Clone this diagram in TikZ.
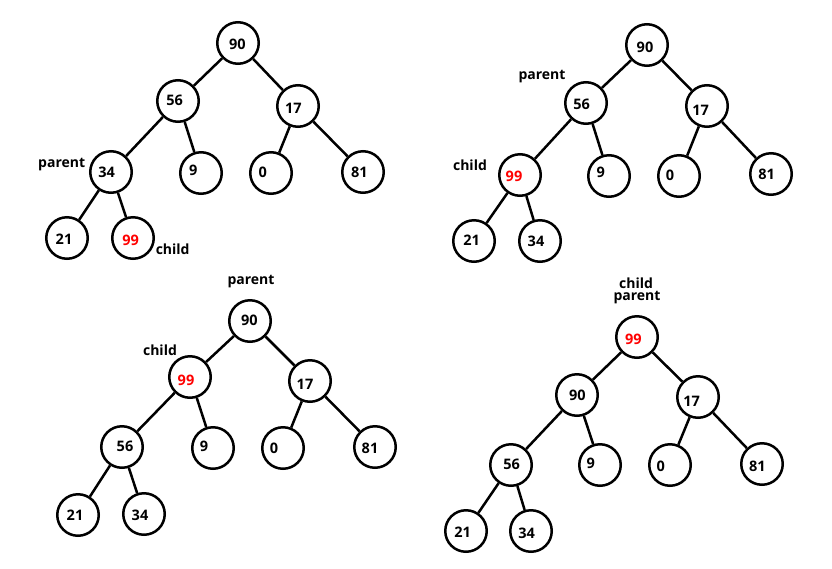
\documentclass[tikz,border=0pt]{standalone}
\usepackage{fontspec}
\setmainfont{Open Sans}
\begin{document}
\begin{tikzpicture}[x=1pt,y=-1pt,
  vc/.style={circle,draw=black,line width=2.5pt,minimum size=41.5pt,inner sep=0pt},
  num/.style={font=\bfseries\fontsize{14.5}{16}\selectfont,inner sep=0pt,text=black},
  hot/.style={num,text=red},
  tag/.style={font=\bfseries\fontsize{14}{16}\selectfont,inner sep=0pt,text=black},
  edge/.style={line width=2.5pt,draw=black}]
\useasboundingbox[fill=white] (0,0) rectangle (832,568);
% ---------- Tree 1 ----------
\node[vc] (a90) at (238,43) {};
\node[vc] (a56) at (178,101) {};
\node[vc] (a17) at (298,106) {};
\node[vc] (a34) at (111,172) {};
\node[vc] (a9)  at (201,173) {};
\node[vc] (a0)  at (271,173) {};
\node[vc] (a81) at (363,172) {};
\node[vc] (a21) at (67,238) {};
\node[vc] (a99) at (133,238) {};
\node[num] (ta90) at (237.3,44.3) {90};
\node[num] (ta56) at (174.7,100.7) {56};
\node[num] (ta17) at (293.3,108.3) {17};
\node[num] (ta34) at (106.7,172.7) {34};
\node[num] (ta9)  at (193.3,170) {9};
\node[num] (ta0)  at (262.7,172.7) {0};
\node[num] (ta81) at (359.3,172.7) {81};
\node[num] (ta21) at (64,239.3) {21};
\node[hot] (ta99) at (130.7,240) {99};
\node[tag] (pa) at (61.7,165) {parent};
\node[tag] (ca) at (172.7,249.3) {child};
\draw[edge] (a90) -- (a56);
\draw[edge] (a90) -- (a17);
\draw[edge] (a56) -- (a34);
\draw[edge] (a56) -- (a9);
\draw[edge] (a17) -- (a0);
\draw[edge] (a17) -- (a81);
\draw[edge] (a34) -- (a21);
\draw[edge] (a34) -- (a99);
% ---------- Tree 2 ----------
\node[vc] (b90) at (647,45) {};
\node[vc] (b56) at (586,103) {};
\node[vc] (b17) at (707,106) {};
\node[vc] (b99) at (520,175) {};
\node[vc] (b9)  at (609,176) {};
\node[vc] (b0)  at (679,176) {};
\node[vc] (b81) at (771,174) {};
\node[vc] (b21) at (474,241) {};
\node[vc] (b34) at (540,241) {};
\node[num] (tb90) at (645,47.3) {90};
\node[num] (tb56) at (581.7,104) {56};
\node[num] (tb17) at (700.7,110.7) {17};
\node[hot] (tb99) at (514,176) {99};
\node[num] (tb9)  at (600.7,172.7) {9};
\node[num] (tb0)  at (670,175) {0};
\node[num] (tb81) at (766.7,174) {81};
\node[num] (tb21) at (471.7,240.7) {21};
\node[num] (tb34) at (536,241.7) {34};
\node[tag] (pb) at (542,77) {parent};
\node[tag] (cb) at (470,165) {child};
\draw[edge] (b90) -- (b56);
\draw[edge] (b90) -- (b17);
\draw[edge] (b56) -- (b99);
\draw[edge] (b56) -- (b9);
\draw[edge] (b17) -- (b0);
\draw[edge] (b17) -- (b81);
\draw[edge] (b99) -- (b21);
\draw[edge] (b99) -- (b34);
% ---------- Tree 3 ----------
\node[vc] (c90) at (250,321) {};
\node[vc] (c99) at (190,377) {};
\node[vc] (c17) at (310,381) {};
\node[vc] (c56) at (122,447) {};
\node[vc] (c9)  at (213,448) {};
\node[vc] (c0)  at (283,448) {};
\node[vc] (c81) at (375,447) {};
\node[vc] (c21) at (78,515) {};
\node[vc] (c34) at (144,514) {};
\node[num] (tc90) at (249.3,320.7) {90};
\node[hot] (tc99) at (186,380) {99};
\node[num] (tc17) at (305,384) {17};
\node[num] (tc56) at (125,446.7) {56};
\node[num] (tc9)  at (204,446) {9};
\node[num] (tc0)  at (274,448.3) {0};
\node[num] (tc81) at (370,448.3) {81};
\node[num] (tc21) at (75,515) {21};
\node[num] (tc34) at (140,515) {34};
\node[tag] (pc) at (251,282) {parent};
\node[tag] (cc) at (160,350) {child};
\draw[edge] (c90) -- (c99);
\draw[edge] (c90) -- (c17);
\draw[edge] (c99) -- (c56);
\draw[edge] (c99) -- (c9);
\draw[edge] (c17) -- (c0);
\draw[edge] (c17) -- (c81);
\draw[edge] (c56) -- (c21);
\draw[edge] (c56) -- (c34);
% ---------- Tree 4 ----------
\node[vc] (d99) at (637,337) {};
\node[vc] (d90) at (577,395) {};
\node[vc] (d17) at (698,397) {};
\node[vc] (d56) at (511,465) {};
\node[vc] (d9)  at (600,465) {};
\node[vc] (d0)  at (670,465) {};
\node[vc] (d81) at (762,464) {};
\node[vc] (d21) at (466,531) {};
\node[vc] (d34) at (531,531) {};
\node[hot] (td99) at (633.3,339.3) {99};
\node[num] (td90) at (577.3,395) {90};
\node[num] (td17) at (691.7,401.7) {17};
\node[num] (td56) at (511.7,464) {56};
\node[num] (td9)  at (590.7,463.3) {9};
\node[num] (td0)  at (660.7,466) {0};
\node[num] (td81) at (757.3,466) {81};
\node[num] (td21) at (462.7,532.7) {21};
\node[num] (td34) at (526.7,533.3) {34};
\node[tag] (cd) at (636,283) {child};
\node[tag] (pd) at (637,298) {parent};
\draw[edge] (d99) -- (d90);
\draw[edge] (d99) -- (d17);
\draw[edge] (d90) -- (d56);
\draw[edge] (d90) -- (d9);
\draw[edge] (d17) -- (d0);
\draw[edge] (d17) -- (d81);
\draw[edge] (d56) -- (d21);
\draw[edge] (d56) -- (d34);
\end{tikzpicture}
\end{document}
